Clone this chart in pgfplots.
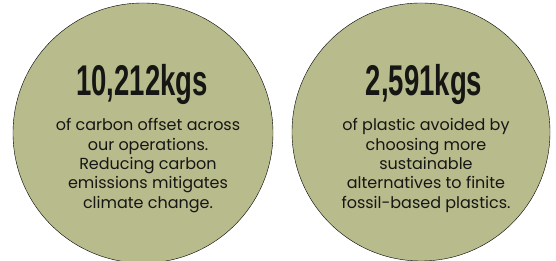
\documentclass[border=0pt]{standalone}
\usepackage{pgfplots}
\pgfplotsset{compat=1.18}
\usepackage{fontspec}
\setmainfont{Poppins}
\newfontfamily\numfont[FakeStretch=0.64]{Liberation Sans}
\definecolor{olivebg}{RGB}{184,187,140}
\definecolor{txt}{RGB}{22,22,20}
\begin{document}
\begin{tikzpicture}
\begin{axis}[width=556pt,height=261pt,scale only axis,
  xmin=0,xmax=556,ymin=0,ymax=261,hide axis,
  clip marker paths=true]
\addplot[only marks, mark=*, mark size=130, mark options={fill=olivebg, draw=none}] coordinates {(143,128)};
\addplot[only marks, mark=*, mark size=129, mark options={fill=olivebg, draw=none}] coordinates {(421,129)};
\node[anchor=base, inner sep=0, text=txt, font=\numfont\bfseries\fontsize{43}{43}\selectfont] at (axis cs:142,165) {10,212kgs};
\node[anchor=base, inner sep=0, text=txt, font=\numfont\bfseries\fontsize{43}{43}\selectfont] at (axis cs:424,165) {2,591kgs};
\node[anchor=north, inner sep=0, align=center, text=txt, font=\fontsize{16}{19.3}\selectfont] at (axis cs:148,142.5) {of carbon offset across\\our operations.\\Reducing carbon\\emissions mitigates\\climate change.};
\node[anchor=north, inner sep=0, align=center, text=txt, font=\fontsize{16}{19.3}\selectfont] at (axis cs:426,142.5) {of plastic avoided by\\choosing more\\sustainable\\alternatives to finite\\fossil-based plastics.};
\end{axis}
\pgfresetboundingbox
\useasboundingbox (current axis.south west) rectangle (current axis.north east);
\end{tikzpicture}
\end{document}
